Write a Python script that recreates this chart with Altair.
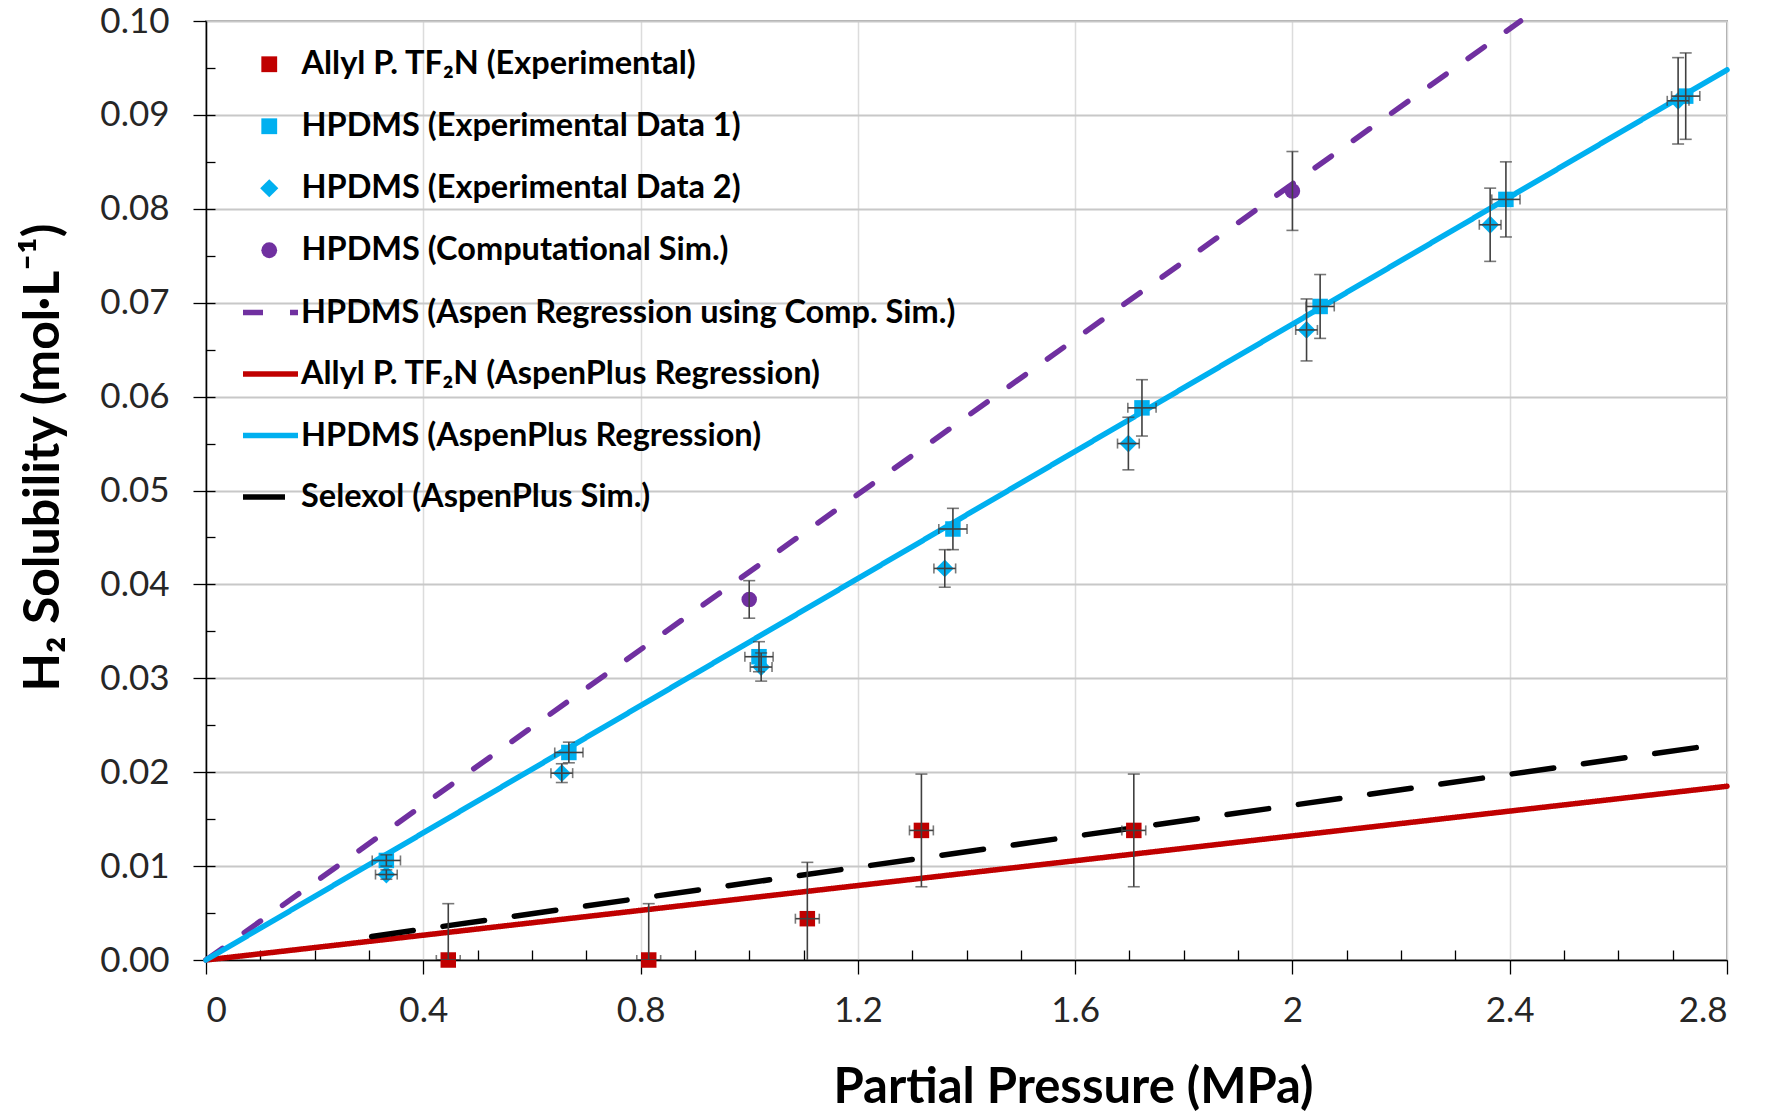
import altair as alt
import pandas as pd

# ---------------- data ----------------
pt_names = [
    "Allyl P. TF₂N (Experimental)",
    "HPDMS (Experimental Data 1)",
    "HPDMS (Experimental Data 2)",
    "HPDMS (Computational Sim.)",
]
pt_colors = ["#C00000", "#00B0F0", "#00B0F0", "#7030A0"]
pt_shapes = ["square", "square", "M0,-1.15L1.15,0L0,1.15L-1.15,0Z", "circle"]

allyl_x = [0.446, 0.815, 1.107, 1.317, 1.708]
allyl_y = [0.0, 0.0, 0.0044, 0.0138, 0.0138]
allyl_yerr = [0.006, 0.006, 0.006, 0.006, 0.006]
allyl_xerr = [0.022, 0.022, 0.022, 0.022, 0.022]

hp1_x = [0.332, 0.668, 1.018, 1.375, 1.723, 2.051, 2.393, 2.724]
hp1_y = [0.0106, 0.0221, 0.0323, 0.0459, 0.0588, 0.0696, 0.0810, 0.0920]
hp1_yerr = [0.0006, 0.0011, 0.0016, 0.0022, 0.0030, 0.0034, 0.0040, 0.0046]
hp1_xerr = [0.026, 0.026, 0.026, 0.026, 0.026, 0.026, 0.026, 0.026]

hp2_x = [0.332, 0.655, 1.022, 1.360, 1.698, 2.026, 2.364, 2.710]
hp2_y = [0.0091, 0.0199, 0.0312, 0.0417, 0.0550, 0.0671, 0.0783, 0.0915]
hp2_yerr = [0.0005, 0.0010, 0.0015, 0.0020, 0.0028, 0.0033, 0.0039, 0.0046]
hp2_xerr = [0.02, 0.02, 0.02, 0.02, 0.02, 0.02, 0.02, 0.02]

comp_x = [1.0, 2.0]
comp_y = [0.0384, 0.0819]
comp_yerr = [0.0020, 0.0042]
comp_xerr = [0.0, 0.0]

line_names = [
    "HPDMS (Aspen Regression using Comp. Sim.)",
    "Allyl P. TF₂N (AspenPlus Regression)",
    "HPDMS (AspenPlus Regression)",
    "Selexol (AspenPlus Sim.)",
]
line_colors = ["#7030A0", "#C00000", "#00B0F0", "#000000"]
line_dashes = [[20, 27], [1, 0], [1, 0], [42, 30]]

aspen_comp_x = [0.0, 2.42]
aspen_comp_y = [0.0, 0.1]
allyl_reg_x = [0.0, 2.8]
allyl_reg_y = [0.0, 0.0185]
hpdms_reg_x = [0.0, 2.8]
hpdms_reg_y = [0.0, 0.0948]
selexol_x = [0.305, 2.778]
selexol_y = [0.0025, 0.0229]

x_major = [0, 0.4, 0.8, 1.2, 1.6, 2, 2.4, 2.8]
x_minor = [0.1, 0.2, 0.3, 0.5, 0.6, 0.7, 0.9, 1.0, 1.1, 1.3, 1.4, 1.5,
           1.7, 1.8, 1.9, 2.1, 2.2, 2.3, 2.5, 2.6, 2.7]
y_major = [0.0, 0.01, 0.02, 0.03, 0.04, 0.05, 0.06, 0.07, 0.08, 0.09, 0.1]
y_minor = [0.005, 0.01, 0.015, 0.02, 0.025, 0.03, 0.035, 0.04, 0.045, 0.05,
           0.055, 0.06, 0.065, 0.07, 0.075, 0.08, 0.085, 0.09, 0.095]

# ---------------- tables ----------------
rows = []
for name, xs, ys, xe, ye in [
    (pt_names[0], allyl_x, allyl_y, allyl_xerr, allyl_yerr),
    (pt_names[1], hp1_x, hp1_y, hp1_xerr, hp1_yerr),
    (pt_names[2], hp2_x, hp2_y, hp2_xerr, hp2_yerr),
    (pt_names[3], comp_x, comp_y, comp_xerr, comp_yerr),
]:
    for a, b, c, d in zip(xs, ys, xe, ye):
        rows.append({"series": name, "x": a, "y": b,
                     "xmin": a - c, "xmax": a + c, "ymin": b - d, "ymax": b + d})
pts_df = pd.DataFrame(rows)
herr_df = pts_df[pts_df["xmax"] > pts_df["xmin"]]

lrows = []
for name, xs, ys in [
    (line_names[0], aspen_comp_x, aspen_comp_y),
    (line_names[1], allyl_reg_x, allyl_reg_y),
    (line_names[2], hpdms_reg_x, hpdms_reg_y),
    (line_names[3], selexol_x, selexol_y),
]:
    for a, b in zip(xs, ys):
        lrows.append({"line": name, "x": a, "y": b})
lines_df = pd.DataFrame(lrows)

FONT = "Lato"
XS = alt.Scale(domain=[0, 2.8], nice=False, zero=False)
YS = alt.Scale(domain=[0, 0.1], nice=False, zero=False)

x_axis = alt.Axis(
    orient="bottom",
    values=x_major, format="~g", grid=True, gridColor="#DCDCDC", gridWidth=1.5,
    labelFontSize=35, labelColor="#262626", labelPadding=19, labelFont=FONT,
    tickSize=14, tickColor="#000000", tickWidth=1.3,
    domainColor="#000000", domainWidth=1.5,
    title="Partial Pressure (MPa)", titleFont=FONT, titleFontSize=49,
    titleFontWeight="bold", titleColor="#000000",
    titleX=867, titleY=127, titleAlign="center", titleBaseline="middle",
)
y_axis = alt.Axis(
    orient="left",
    values=y_major, format=".2f", grid=True, gridColor="#C8C8C8", gridWidth=2,
    labelFontSize=35, labelColor="#262626", labelPadding=24, labelFont=FONT,
    tickSize=13, tickColor="#000000", tickWidth=1.3,
    domainColor="#000000", domainWidth=1.5,
    title="H₂ Solubility (mol·L⁻¹)", titleFont=FONT, titleFontSize=50,
    titleFontWeight="bold", titleColor="#000000",
    titleX=-163, titleY=436, titleAngle=270, titleAlign="center",
    titleBaseline="middle",
)

line_legend = alt.Legend(
    title=None, orient="none", legendX=34, legendY=261, padding=0,
    labelFont=FONT, labelFontSize=32.5, labelFontWeight="bold", labelColor="#000000",
    labelLimit=1000, labelOffset=0, rowPadding=14.5,
    symbolType="stroke", symbolSize=3025, symbolStrokeWidth=5.5,
)
pt_legend = alt.Legend(
    title=None, orient="none", legendX=47, legendY=27, padding=0,
    labelFont=FONT, labelFontSize=32.5, labelFontWeight="bold", labelColor="#000000",
    labelLimit=1000, labelOffset=16, rowPadding=29,
    symbolSize=250, symbolStrokeWidth=0,
)

lines = alt.Chart(lines_df).mark_line(strokeWidth=5.5, strokeCap="round").encode(
    x=alt.X("x:Q", scale=XS, axis=x_axis),
    y=alt.Y("y:Q", scale=YS, axis=y_axis),
    color=alt.Color("line:N", scale=alt.Scale(domain=line_names, range=line_colors),
                    legend=line_legend),
    strokeDash=alt.StrokeDash("line:N", scale=alt.Scale(domain=line_names, range=line_dashes),
                              legend=line_legend),
)

vbars = alt.Chart(pts_df).mark_errorbar(
    ticks=True, size=12, thickness=1.6, color="#404040", clip=True
).encode(
    x=alt.X("x:Q", scale=XS, axis=None),
    y=alt.Y("ymin:Q", scale=YS, axis=None),
    y2="ymax:Q",
)
hbars = alt.Chart(herr_df).mark_errorbar(
    ticks=True, size=10, thickness=1.6, color="#404040", clip=True
).encode(
    x=alt.X("xmin:Q", scale=XS, axis=None),
    x2="xmax:Q",
    y=alt.Y("y:Q", scale=YS, axis=None),
)

points = alt.Chart(pts_df).mark_point(filled=True, size=240, opacity=1).encode(
    x=alt.X("x:Q", scale=XS, axis=None),
    y=alt.Y("y:Q", scale=YS, axis=None),
    color=alt.Color("series:N", scale=alt.Scale(domain=pt_names, range=pt_colors),
                    legend=pt_legend),
    shape=alt.Shape("series:N", scale=alt.Scale(domain=pt_names, range=pt_shapes),
                    legend=pt_legend),
)

minor = alt.Chart(pts_df).mark_point(opacity=0).encode(
    x=alt.X("x:Q", scale=XS, axis=alt.Axis(
        orient="bottom", values=x_minor, labels=False, domain=False, grid=False,
        title=None, tickSize=10, offset=-10, tickColor="#000000", tickWidth=1.3)),
    y=alt.Y("y:Q", scale=YS, axis=alt.Axis(
        orient="left", values=y_minor, labels=False, domain=False, grid=False,
        title=None, tickSize=9, offset=-9, tickColor="#000000", tickWidth=1.3)),
)

chart = alt.layer(lines, points, vbars, hbars, minor).resolve_scale(
    color="independent", shape="independent", strokeDash="independent",
).resolve_axis(x="independent", y="independent").properties(
    width=1521, height=939,
    padding={"left": 206, "top": 21, "right": 39, "bottom": 151},
    autosize=alt.AutoSizeParams(type="none"),
    background="#FFFFFF",
).configure_view(stroke="#A6A6A6", strokeWidth=2)

chart.save("out.html", embed_options={"renderer": "svg", "actions": False})
